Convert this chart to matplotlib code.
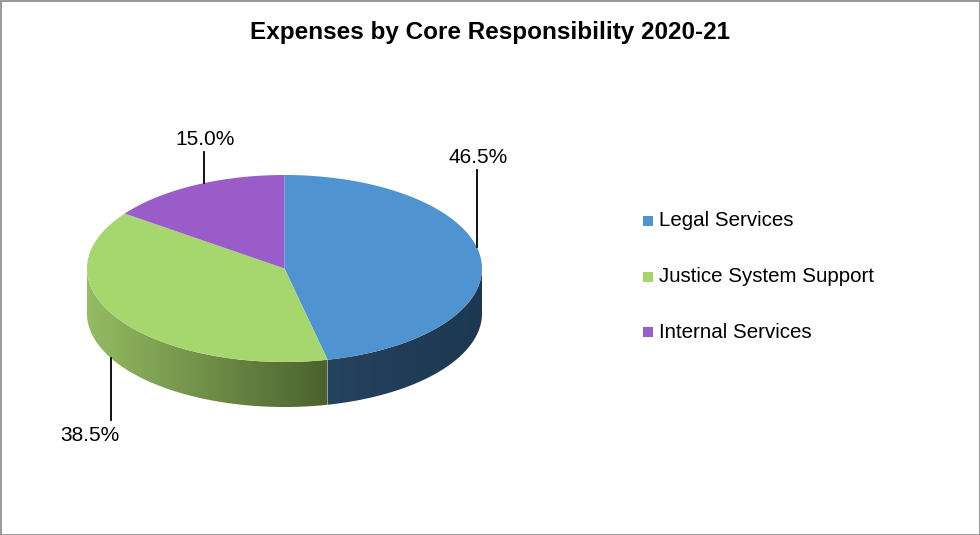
import numpy as np
import matplotlib.pyplot as plt
from matplotlib.patches import Polygon, Rectangle
from matplotlib.colors import LinearSegmentedColormap

plt.rcParams['font.family'] = ['Liberation Sans', 'DejaVu Sans']

# Chart data
categories = ['Legal Services', 'Justice System Support', 'Internal Services']
shares = [46.5, 38.5, 15.0]
title = 'Expenses by Core Responsibility 2020-21'

top_colors = ['#4F93D0', '#A5D76E', '#9A5CC8']
side_colors = [('#25425F', '#1E3750'), ('#94BC62', '#4B612E'), ('#6A4090', '#4A2A66')]

# ellipse geometry in pixel space
cx, cy, rx, ry, depth = 284.5, 268.5, 197.5, 93.5, 45


def ell(theta, dy=0.0):
    # theta in degrees, clockwise from 12 o'clock
    t = np.radians(theta)
    return np.column_stack([cx + rx * np.sin(t), cy - ry * np.cos(t) + dy])


fig = plt.figure(figsize=(9.8, 5.35), dpi=100)
ax = fig.add_axes([0, 0, 1, 1])
ax.set_xlim(0, 980)
ax.set_ylim(535, 0)
ax.axis('off')

fracs = np.array(shares) / sum(shares)
edges = np.concatenate([[0], np.cumsum(fracs) * 360])

# side walls (only the front half, 90..270 deg, is visible)
for i in range(len(shares)):
    a0, a1 = max(edges[i], 90), min(edges[i + 1], 270)
    if a1 <= a0:
        continue
    th = np.linspace(a0, a1, 200)
    pts = np.vstack([ell(th), ell(th[::-1], depth)])
    poly = Polygon(pts, closed=True, facecolor='none', edgecolor='none')
    ax.add_patch(poly)
    cmap = LinearSegmentedColormap.from_list('s%d' % i, list(side_colors[i]))
    xmin, xmax = pts[:, 0].min(), pts[:, 0].max()
    ymin, ymax = pts[:, 1].min(), pts[:, 1].max()
    grad = np.linspace(0, 1, 256)[None, :]
    im = ax.imshow(grad, cmap=cmap, extent=[xmin, xmax, ymax, ymin],
                   aspect='auto', zorder=1, interpolation='bilinear')
    im.set_clip_path(poly)

# top faces
for i in range(len(shares)):
    th = np.linspace(edges[i], edges[i + 1], 200)
    pts = np.vstack([[cx, cy], ell(th)])
    ax.add_patch(Polygon(pts, closed=True, facecolor=top_colors[i],
                         edgecolor='none', zorder=2))

# data labels with vertical leader lines
angle_adj = [-6.7, 4.7, 3.0]
label_len = [77, 62, 31]
label_dx = [1, -21, 1]
for i, s in enumerate(shares):
    mid = (edges[i] + edges[i + 1]) / 2 + angle_adj[i]
    front = 90 < mid < 270
    x0, y0 = ell(mid, depth if front else 0)[0]
    y1 = y0 + label_len[i] if front else y0 - label_len[i]
    ax.plot([x0, x0], [y0, y1], color='black', lw=1.3, zorder=3)
    ty = y1 + 15 if front else y1 - 13
    ax.text(x0 + label_dx[i], ty, '%.1f%%' % s, fontsize=15,
            ha='center', va='center', zorder=3)

# legend
for i, name in enumerate(categories):
    y = 221 + i * 55.5
    ax.add_patch(Rectangle((643, y - 5), 10, 10, facecolor=top_colors[i],
                           edgecolor='none'))
    ax.text(659, y, name, fontsize=14.8, ha='left', va='center')

ax.text(490, 32, title, fontsize=17.5, fontweight='bold',
        ha='center', va='center')

# chart border
ax.add_patch(Rectangle((0.5, 0.5), 979, 534, facecolor='none',
                       edgecolor='#878787', lw=1.2, zorder=5))

fig.savefig('out.png', dpi=100)
